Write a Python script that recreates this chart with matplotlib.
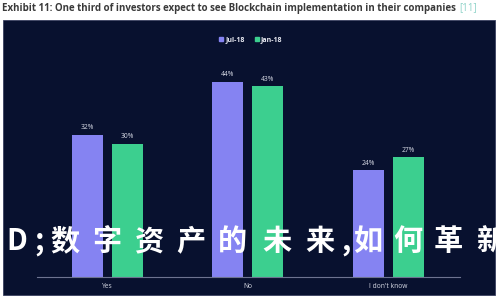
import matplotlib
matplotlib.use("Agg")
import matplotlib.pyplot as plt
import numpy as np
from matplotlib.patches import Rectangle
from matplotlib.lines import Line2D

# data
categories = ["Yes", "No", "I don't know"]
jul_18 = [32, 44, 24]
jan_18 = [30, 43, 27]
series_names = ["Jul-18", "Jan-18"]

title = "Exhibit 11: One third of investors expect to see Blockchain implementation in their companies"
ref_tag = "[11]"
overlay = "D;数字资产的未来,如何革新"
# left edge (px) of each overlay character, it is spaced out wide
overlay_x = [6, 34, 50, 92, 134, 176, 218, 262, 305, 341, 353, 393, 434, 476]

navy = "#08112f"
purple = "#8583f2"
green = "#3ccf8f"

W, H = 500, 300
fig = plt.figure(figsize=(W / 100, H / 100), dpi=100)
fig.patch.set_facecolor("white")

# dark panel behind the chart
fig.add_artist(Rectangle((3 / W, 1 - 295 / H), 492 / W, 275 / H,
                         transform=fig.transFigure, facecolor=navy,
                         edgecolor="#3a4060", linewidth=0.6, zorder=0))

ax = fig.add_axes([37 / W, 1 - 277 / H, 423 / W, 217 / H])
ax.set_facecolor("none")

x = np.arange(len(categories))
off = 0.142
bw = 0.22
b1 = ax.bar(x - off, jul_18, bw, color=purple, zorder=2)
b2 = ax.bar(x + off, jan_18, bw, color=green, zorder=2)
for bars, vals in ((b1, jul_18), (b2, jan_18)):
    for rect, v in zip(bars, vals):
        ax.text(rect.get_x() + rect.get_width() / 2, v + 0.8, "{}%".format(v),
                ha="center", va="bottom", color="#d8dbe6", fontsize=4.8,
                family="Open Sans")

ax.set_xlim(-0.5, 2.51)
ax.set_ylim(0, 48.9)
ax.set_yticks([])
ax.set_xticks(x)
ax.set_xticklabels(categories, color="#d8dbe6", fontsize=4.8, family="Open Sans")
ax.tick_params(axis="x", length=0, pad=4)
for s in ("top", "right", "left"):
    ax.spines[s].set_visible(False)
ax.spines["bottom"].set_color("#6d7390")
ax.spines["bottom"].set_linewidth(0.8)

handles = [Line2D([], [], marker="s", linestyle="none", markersize=3,
                  color=c) for c in (purple, green)]
fig.legend(handles, series_names, loc="center", bbox_to_anchor=(250 / W, 1 - 40 / H),
           ncol=2, frameon=False, labelcolor="#e8eaf2",
           handletextpad=0.1, columnspacing=1.2, handlelength=1,
           prop={"family": "Open Sans", "weight": "bold", "size": 5})

# title line
t = fig.text(2 / W, 1 - 8 / H, title, ha="left", va="center", fontsize=7.0,
             color="#3a3a3a", family="Open Sans", weight="bold")
fig.canvas.draw()
bb = t.get_window_extent()
fig.text(bb.x1 / W + 3 / W, 1 - 8 / H, ref_tag, ha="left", va="center",
         fontsize=7.0, color="#8fd3c8", family="Open Sans")

# overlay caption across the chart, one character at a time
for ch, px in zip(overlay, overlay_x):
    fig.text(px / W, 1 - 241 / H, ch, ha="left", va="center", fontsize=21,
             color="white", weight="bold",
             family=["Noto Sans CJK SC", "DejaVu Sans"], zorder=5)

fig.savefig("out.png", dpi=100, facecolor=fig.get_facecolor())
